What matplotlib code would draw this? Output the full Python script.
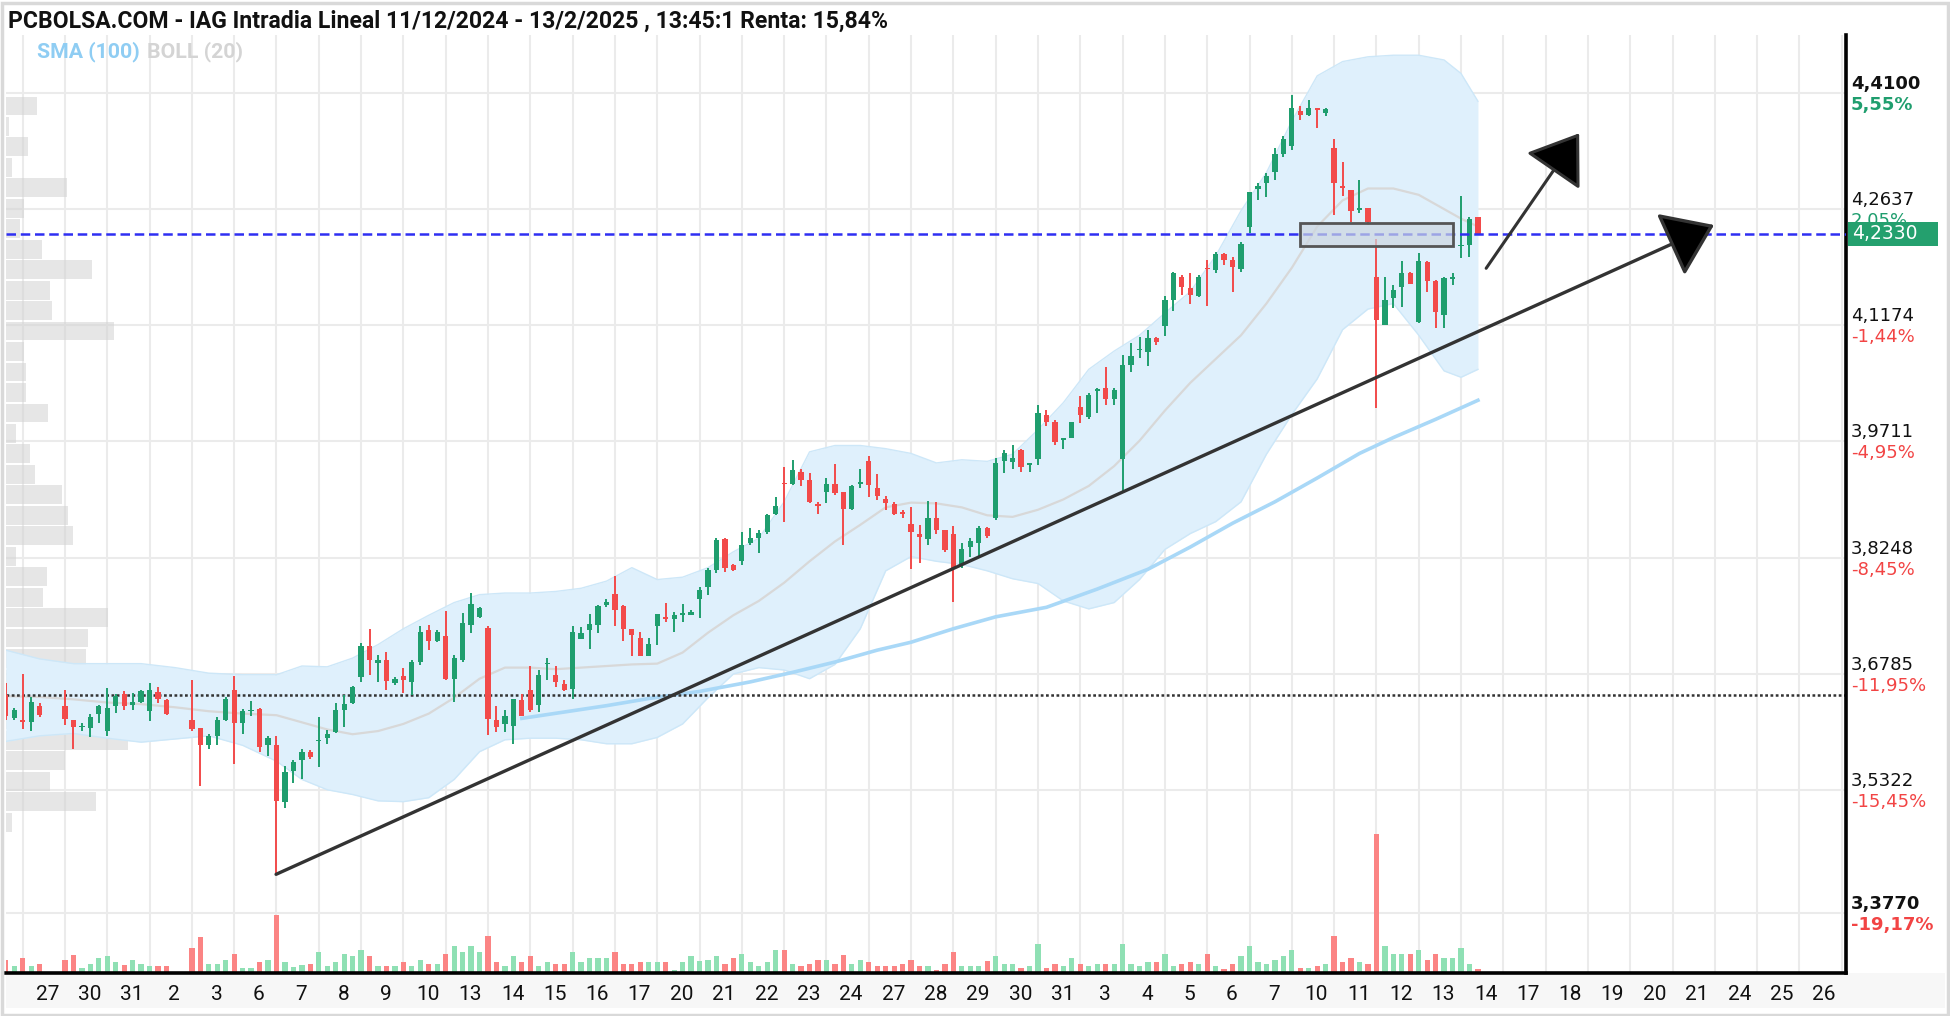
import numpy as np
import matplotlib
matplotlib.use("Agg")
import matplotlib.pyplot as plt
from matplotlib.patches import Rectangle
from matplotlib.transforms import blended_transform_factory, offset_copy

# velas intradia (5 por sesion). primera barra = 24 dic (posicion -2). None = sin dato
apertura = [3.6515, 3.622,
            3.620, 3.618, 3.637, None, None,
            3.638, 3.620, 3.611, 3.610, 3.628,
            3.606, 3.637, 3.653, 3.639, 3.643,
            3.631, 3.655, 3.645, None, None,
            3.620, 3.610, 3.588, 3.600, 3.620,
            3.658, 3.616, 3.631, 3.634, 3.588,
            3.588, 3.516, 3.556, 3.570, 3.579,
            3.593, 3.597, 3.605, 3.633, 3.641,
            3.674, 3.713, 3.692, 3.695, 3.666,
            3.675, 3.668, 3.693, 3.733, 3.719,
            3.726, 3.672, 3.696, 3.740, 3.750,
            3.736, 3.620, 3.615, 3.612, 3.645,
            3.658, 3.639, 3.690, 3.677, 3.665,
            3.659, 3.722, 3.733, 3.740, 3.765,
            3.779, 3.764, 3.735, 3.723, 3.701,
            3.738, 3.750, 3.747, 3.752, 3.752,
            3.773, 3.787, 3.809, 3.848, 3.815,
            3.820, 3.843, 3.850, 3.857, 3.880,
            3.919, 3.917, 3.933, 3.923, 3.892,
            3.908, 3.917, 3.908, 3.886, 3.918,
            3.947, 3.912, 3.899, 3.892, 3.882,
            3.867, 3.854, 3.848, 3.874, 3.860,
            3.854, 3.817, 3.838, 3.843, 3.862,
            3.874, 3.946, 3.945, 3.960, 3.941,
            3.949, 4.004, 3.996, 3.973, 3.976,
            4.015, 4.002, 4.035, 4.038, 4.024,
            3.949, 4.068, 4.086, 4.084, 4.101,
            4.117, 4.149, 4.179, 4.164, 4.154,
            4.189, 4.187, 4.207, 4.200, 4.189,
            4.241, 4.289, 4.297, 4.311, 4.334,
            4.344, 4.388, 4.383, 4.391, 4.385,
            4.341, 4.293, 4.288, 4.263, 4.265,
            4.179, 4.118, 4.152, 4.166, 4.184,
            4.122, 4.197, 4.174, 4.131, 4.176,
            4.217, 4.219, 4.254]
maximo = [3.666, 3.635,
          3.6785, 3.649, 3.642, None, None,
          3.658, 3.620, 3.616, 3.627, 3.639,
          3.660, 3.653, 3.656, 3.654, 3.658,
          3.667, 3.662, 3.646, None, None,
          3.671, 3.610, 3.602, 3.624, 3.649,
          3.676, 3.634, 3.644, 3.635, 3.600,
          3.600, 3.562, 3.570, 3.584, 3.582,
          3.624, 3.607, 3.641, 3.651, 3.663,
          3.717, 3.735, 3.702, 3.706, 3.674,
          3.685, 3.696, 3.738, 3.740, 3.733,
          3.757, 3.702, 3.755, 3.780, 3.763,
          3.738, 3.637, 3.632, 3.647, 3.653,
          3.688, 3.683, 3.698, 3.688, 3.670,
          3.738, 3.737, 3.754, 3.765, 3.773,
          3.801, 3.765, 3.735, 3.731, 3.723,
          3.753, 3.768, 3.756, 3.766, 3.759,
          3.788, 3.812, 3.849, 3.849, 3.816,
          3.857, 3.862, 3.859, 3.880, 3.901,
          3.939, 3.948, 3.936, 3.931, 3.895,
          3.925, 3.943, 3.908, 3.916, 3.937,
          3.953, 3.930, 3.902, 3.895, 3.885,
          3.889, 3.866, 3.896, 3.895, 3.860,
          3.864, 3.843, 3.849, 3.864, 3.863,
          3.950, 3.960, 3.967, 3.962, 3.944,
          4.017, 4.011, 3.998, 3.976, 3.996,
          4.028, 4.032, 4.038, 4.065, 4.038,
          4.080, 4.095, 4.103, 4.111, 4.103,
          4.154, 4.185, 4.181, 4.183, 4.181,
          4.200, 4.210, 4.209, 4.204, 4.222,
          4.286, 4.297, 4.309, 4.341, 4.356,
          4.408, 4.394, 4.401, 4.391, 4.391,
          4.353, 4.323, 4.288, 4.301, 4.266,
          4.226, 4.179, 4.168, 4.198, 4.185,
          4.209, 4.198, 4.175, 4.179, 4.184,
          4.280, 4.254, 4.254]
minimo = [3.620, 3.620,
          3.609, 3.606, 3.624, None, None,
          3.614, 3.584, 3.606, 3.599, 3.616,
          3.600, 3.629, 3.632, 3.632, 3.641,
          3.619, 3.641, 3.626, None, None,
          3.606, 3.537, 3.583, 3.589, 3.619,
          3.564, 3.602, 3.625, 3.579, 3.574,
          3.425, 3.509, 3.541, 3.546, 3.571,
          3.561, 3.590, 3.603, 3.611, 3.640,
          3.668, 3.677, 3.668, 3.658, 3.664,
          3.654, 3.651, 3.689, 3.708, 3.718,
          3.670, 3.643, 3.693, 3.729, 3.749,
          3.601, 3.605, 3.605, 3.590, 3.625,
          3.630, 3.630, 3.670, 3.661, 3.657,
          3.647, 3.722, 3.710, 3.729, 3.763,
          3.738, 3.719, 3.700, 3.700, 3.700,
          3.714, 3.744, 3.731, 3.744, 3.752,
          3.749, 3.777, 3.805, 3.807, 3.808,
          3.815, 3.841, 3.830, 3.855, 3.878,
          3.869, 3.916, 3.915, 3.894, 3.880,
          3.894, 3.904, 3.841, 3.885, 3.912,
          3.901, 3.897, 3.885, 3.878, 3.874,
          3.810, 3.818, 3.841, 3.854, 3.832,
          3.769, 3.811, 3.826, 3.826, 3.850,
          3.872, 3.931, 3.936, 3.933, 3.933,
          3.941, 3.990, 3.967, 3.961, 3.975,
          3.994, 4.000, 4.007, 4.017, 4.017,
          3.908, 4.059, 4.076, 4.066, 4.093,
          4.104, 4.135, 4.156, 4.145, 4.153,
          4.142, 4.183, 4.194, 4.160, 4.185,
          4.234, 4.275, 4.279, 4.301, 4.330,
          4.339, 4.376, 4.381, 4.366, 4.381,
          4.257, 4.280, 4.248, 4.259, 4.244,
          4.013, 4.118, 4.139, 4.141, 4.170,
          4.121, 4.160, 4.114, 4.114, 4.168,
          4.202, 4.204, 4.231]
cierre = [3.6245, 3.633,
          3.618, 3.643, 3.626, None, None,
          3.621, 3.611, 3.613, 3.624, 3.638,
          3.635, 3.650, 3.638, 3.643, 3.657,
          3.658, 3.646, 3.628, None, None,
          3.608, 3.588, 3.600, 3.620, 3.647,
          3.616, 3.631, 3.633, 3.586, 3.597,
          3.518, 3.555, 3.567, 3.580, 3.573,
          3.595, 3.602, 3.632, 3.640, 3.662,
          3.713, 3.696, 3.695, 3.669, 3.672,
          3.671, 3.693, 3.731, 3.719, 3.731,
          3.672, 3.698, 3.742, 3.766, 3.761,
          3.621, 3.611, 3.625, 3.647, 3.625,
          3.632, 3.677, 3.692, 3.668, 3.658,
          3.731, 3.729, 3.741, 3.764, 3.769,
          3.759, 3.735, 3.727, 3.701, 3.716,
          3.753, 3.747, 3.752, 3.755, 3.756,
          3.784, 3.809, 3.847, 3.812, 3.809,
          3.841, 3.849, 3.856, 3.878, 3.890,
          3.917, 3.935, 3.923, 3.895, 3.890,
          3.917, 3.906, 3.886, 3.915, 3.920,
          3.916, 3.902, 3.894, 3.880, 3.880,
          3.857, 3.851, 3.874, 3.860, 3.834,
          3.812, 3.836, 3.845, 3.862, 3.852,
          3.944, 3.957, 3.950, 3.939, 3.944,
          4.007, 3.996, 3.971, 3.975, 3.995,
          4.004, 4.030, 4.037, 4.024, 4.036,
          4.068, 4.079, 4.087, 4.101, 4.097,
          4.149, 4.183, 4.166, 4.156, 4.179,
          4.188, 4.207, 4.200, 4.191, 4.220,
          4.286, 4.293, 4.306, 4.334, 4.353,
          4.391, 4.383, 4.391, 4.389, 4.390,
          4.297, 4.291, 4.261, 4.265, 4.248,
          4.124, 4.149, 4.162, 4.184, 4.170,
          4.198, 4.173, 4.134, 4.177, 4.177,
          4.219, 4.252, 4.233]
# volumen en millones de acciones
volumen = [3.3, 1.7,
           3.8, 1.7, 2.3, None, None,
           3.3, 4.4, 1.3, 2.3, 3.8,
           4.3, 2.7, 2.1, 3.2, 2.3,
           1.8, 1.8, 1.8, None, None,
           6.3, 9.0, 2.3, 2.3, 3.3,
           4.8, 1.3, 1.3, 2.7, 3.3,
           14.5, 2.8, 1.4, 2.1, 2.3,
           5.2, 1.7, 2.8, 4.8, 4.3,
           5.7, 4.3, 1.7, 1.7, 1.7,
           2.8, 1.7, 3.3, 2.3, 2.3,
           4.8, 6.7, 5.2, 6.8, 5.2,
           9.3, 2.8, 1.7, 4.3, 2.8,
           4.3, 1.8, 2.8, 2.3, 2.3,
           5.3, 2.8, 3.8, 3.8, 3.8,
           5.3, 2.3, 2.3, 2.8, 2.8,
           2.8, 2.8, 0.8, 2.7, 4.3,
           2.9, 3.3, 4.3, 2.3, 3.8,
           4.8, 2.8, 1.7, 2.8, 5.8,
           5.8, 2.3, 1.8, 2.3, 3.2,
           3.2, 2.3, 4.4, 2.3, 3.2,
           2.8, 1.8, 1.8, 1.8, 2.3,
           3.3, 1.8, 1.8, 0.8, 2.3,
           5.3, 1.8, 1.8, 1.8, 2.9,
           4.3, 2.3, 2.3, 1.3, 1.7,
           7.3, 1.3, 2.3, 1.8, 3.8,
           2.3, 1.7, 2.3, 2.3, 2.3,
           7.3, 2.3, 1.8, 2.8, 2.8,
           4.8, 1.7, 2.3, 2.8, 2.3,
           4.8, 1.8, 1.0, 2.3, 4.3,
           6.8, 2.8, 2.3, 3.3, 4.2,
           5.8, 1.3, 1.3, 1.8, 2.3,
           9.3, 2.8, 3.8, 2.8, 2.3,
           34.8, 6.7, 4.8, 4.8, 4.8,
           5.8, 3.3, 4.8, 3.8, 3.8,
           6.3, 2.3, 1.0]

# bandas de bollinger (20) y media simple (100)
boll_x = [-2, 2, 6, 10, 14, 18, 22, 26, 30, 33, 36, 39, 42, 45, 48, 51, 54, 57, 60,
          63, 66, 69, 72, 75, 78, 81, 84, 87, 90, 93, 96, 99, 102, 105, 108, 111, 114,
          117, 120, 123, 126, 129, 132, 135, 138, 141, 144, 147, 150, 153, 156, 159,
          162, 165, 168, 170, 172]
boll_sup = [3.708, 3.697, 3.691, 3.691, 3.691, 3.686, 3.679, 3.677, 3.677, 3.688, 3.687,
            3.698, 3.715, 3.735, 3.752, 3.768, 3.778, 3.780, 3.780, 3.782, 3.786, 3.795,
            3.812, 3.797, 3.800, 3.812, 3.832, 3.849, 3.895, 3.958, 3.966, 3.966, 3.962,
            3.956, 3.944, 3.948, 3.946, 3.955, 3.986, 4.020, 4.062, 4.085, 4.105, 4.133,
            4.160, 4.205, 4.262, 4.310, 4.375, 4.432, 4.450, 4.456, 4.458, 4.458, 4.452,
            4.435, 4.400]
boll_med = [3.650, 3.649, 3.646, 3.642, 3.640, 3.636, 3.631, 3.628, 3.626, 3.617, 3.608,
            3.602, 3.606, 3.615, 3.628, 3.648, 3.672, 3.686, 3.686, 3.684, 3.686, 3.688,
            3.690, 3.691, 3.705, 3.730, 3.752, 3.770, 3.793, 3.820, 3.845, 3.866, 3.888,
            3.894, 3.893, 3.888, 3.878, 3.876, 3.885, 3.898, 3.915, 3.940, 3.972, 4.010,
            4.045, 4.075, 4.105, 4.145, 4.190, 4.242, 4.275, 4.290, 4.290, 4.282, 4.264,
            4.252, 4.242]
boll_inf = [3.593, 3.600, 3.603, 3.597, 3.592, 3.596, 3.600, 3.588, 3.568, 3.545, 3.532,
            3.526, 3.518, 3.517, 3.522, 3.545, 3.580, 3.595, 3.597, 3.597, 3.595, 3.590,
            3.590, 3.598, 3.615, 3.648, 3.678, 3.686, 3.683, 3.672, 3.690, 3.735, 3.808,
            3.826, 3.820, 3.816, 3.808, 3.798, 3.792, 3.770, 3.760, 3.768, 3.797, 3.835,
            3.855, 3.870, 3.895, 3.955, 4.005, 4.050, 4.112, 4.138, 4.145, 4.105, 4.060,
            4.052, 4.062]
sma_x = [59, 64, 69, 74, 80, 86, 91, 96, 101, 105, 110, 115, 121, 127, 133, 138, 143,
         148, 153, 158, 162, 167, 172]
sma_y = [3.622, 3.630, 3.638, 3.647, 3.656, 3.668, 3.680, 3.693, 3.708, 3.718, 3.735,
         3.750, 3.762, 3.785, 3.810, 3.838, 3.868, 3.895, 3.925, 3.956, 3.976, 3.999, 4.023]

# perfil de volumen por precio (de 4,41 hacia abajo)
perfil = [31, 3, 22, 6, 61, 18, 14, 36, 86, 44, 46, 108, 18, 20, 20, 42, 10, 24, 29,
          56, 62, 67, 10, 41, 37, 102, 82, 80, 100, 179, 179, 122, 59, 44, 90, 6]

dias = ['27', '30', '31', '2', '3', '6', '7', '8', '9', '10', '13', '14', '15', '16', '17',
        '20', '21', '22', '23', '24', '27', '28', '29', '30', '31', '3', '4', '5', '6', '7',
        '10', '11', '12', '13', '14', '17', '18', '19', '20', '21', '24', '25', '26']

niveles = [4.4100, 4.2637, 4.1174, 3.9711, 3.8248, 3.6785, 3.5322, 3.3770]
porcentajes = [5.55, 2.05, -1.44, -4.95, -8.45, -11.95, -15.45, -19.17]
ultimo = 4.2330
soporte = 3.6515

titulo = "PCBOLSA.COM - IAG Intradia Lineal 11/12/2024 - 13/2/2025 , 13:45:1 Renta: 15,84%"

verde = '#1f9e6e'
rojo = '#f24a4a'
verde_vol = '#8fe0b4'
rojo_vol = '#fb8484'
narrow = ['Liberation Sans Narrow', 'Roboto', 'DejaVu Sans']

fig = plt.figure(figsize=(19.5, 10.16), dpi=100)
ax = fig.add_axes([6 / 1950, 43 / 1016, 1840 / 1950, 938 / 1016])
ymin, ymax = 3.3010, 4.4835
ax.set_xlim(-1.97, 215.5)
ax.set_ylim(ymin, ymax)
ax.set_xticks([])
ax.set_yticks([])
for lado in ['left', 'top']:
    ax.spines[lado].set_visible(False)
for lado in ['right', 'bottom']:
    ax.spines[lado].set_color('black')
    ax.spines[lado].set_linewidth(2.6)

# rejilla
for p in niveles:
    ax.axhline(p, color='#ebebeb', lw=1.5, zorder=0)
for k in range(len(dias) + 1):
    ax.axvline(5 * k, color='#ebebeb', lw=1.5, zorder=0)

# perfil de volumen (ancho en pixeles del area de grafico)
tr_perfil = blended_transform_factory(ax.transAxes, ax.transData)
paso = 0.0258
for i, w in enumerate(perfil):
    ax.add_patch(Rectangle((0, 4.408 - (i + 1) * paso), w / 1840, paso * 0.92,
                           transform=tr_perfil, facecolor='#d2d2d2', alpha=0.55,
                           lw=0, zorder=0.5))

# bollinger y media
ax.fill_between(boll_x, boll_inf, boll_sup, color='#dff0fc', lw=0, zorder=1)
ax.plot(boll_x, boll_sup, color='#cde7f8', lw=1, zorder=1.1)
ax.plot(boll_x, boll_inf, color='#cde7f8', lw=1, zorder=1.1)
ax.plot(boll_x, boll_med, color='#d8d8d8', lw=1.6, zorder=1.2)
ax.plot(sma_x, sma_y, color='#a9d8f7', lw=2.6, zorder=1.3)

# velas y volumen
x = np.arange(len(apertura)) - 2
o = np.array(apertura, dtype=float)
h = np.array(maximo, dtype=float)
l = np.array(minimo, dtype=float)
c = np.array(cierre, dtype=float)
v = np.array(volumen, dtype=float)
ok = ~np.isnan(o)
x, o, h, l, c, v = x[ok], o[ok], h[ok], l[ok], c[ok], v[ok]
sube = c >= o
col = np.where(sube, verde, rojo)
col_vol = np.where(sube, verde_vol, rojo_vol)

escala_vol = 4 / 793.2
ax.bar(x, v * escala_vol, bottom=ymin, width=0.62, color=col_vol, lw=0, zorder=2)
ax.vlines(x, l, h, colors=col, lw=1.4, zorder=3)
cuerpo = np.maximum(np.abs(c - o), 0.0018)
ax.bar(x, cuerpo, bottom=np.minimum(o, c), width=0.62, color=col, lw=0, zorder=4)

# lineas horizontales
ax.axhline(soporte, color='#333333', lw=1.8, ls=(0, (1.1, 1.0)), zorder=2.5)
ax.axhline(ultimo, color='#2f2ff2', lw=1.8, ls=(0, (3.8, 1.9)), zorder=4.5)

# rectangulo y flechas dibujadas
ax.add_patch(Rectangle((151.0, 4.2171), 18.0, 0.0298, facecolor=(0.80, 0.84, 0.88, 0.7),
                       edgecolor='#555555', lw=2, zorder=5))
ax.annotate('', xy=(199.9, 4.244), xytext=(29.95, 3.4254), zorder=6,
            arrowprops=dict(arrowstyle='-|>,head_length=1.55,head_width=1.1',
                            mutation_scale=20, lw=2.4, ec='#333333', fc='black',
                            shrinkA=0, shrinkB=0))
ax.annotate('', xy=(183.96, 4.3596), xytext=(172.97, 4.1894), zorder=6,
            arrowprops=dict(arrowstyle='-|>,head_length=1.5,head_width=1.05',
                            mutation_scale=20, lw=2.2, ec='#333333', fc='black',
                            shrinkA=0, shrinkB=0))

# etiquetas de fecha
tr_x = blended_transform_factory(ax.transData, ax.transAxes)
for k, d in enumerate(dias):
    ax.text(5 * k + 2.9, -22 / 938, d, transform=tr_x, ha='center', va='center',
            fontsize=15, family=narrow, color='#111111', clip_on=False)

# escala de precios a la derecha
tr_y = blended_transform_factory(ax.transAxes, ax.transData)
t_precio = offset_copy(tr_y, fig=fig, x=5, y=9, units='dots')
t_pct = offset_copy(tr_y, fig=fig, x=5, y=-12, units='dots')
for i, (p, pc) in enumerate(zip(niveles, porcentajes)):
    extremo = i == 0 or i == len(niveles) - 1
    peso = 'bold' if extremo else 'normal'
    ax.text(1.0, p, f"{p:.4f}".replace('.', ','), transform=t_precio, ha='left',
            va='center', fontsize=13, fontweight=peso, color='#111111', clip_on=False)
    ax.text(1.0, p, f"{pc:.2f}%".replace('.', ','), transform=t_pct, ha='left',
            va='center', fontsize=13, fontweight=peso,
            color=verde if pc > 0 else '#f24444', clip_on=False)
ax.add_patch(Rectangle((1.001, ultimo - 0.0152), 90 / 1840, 0.0304, transform=tr_y,
                       facecolor='#24a06e', lw=0, clip_on=False, zorder=7))
ax.text(1.0, ultimo, f"{ultimo:.4f}".replace('.', ','),
        transform=offset_copy(tr_y, fig=fig, x=6, y=0, units='dots'), ha='left',
        va='center', fontsize=13.5, color='white', clip_on=False, zorder=8)

# marco, banda inferior y titulos
fig.patches.append(Rectangle((6 / 1950, 8 / 1016), 1939 / 1950, 35 / 1016,
                             transform=fig.transFigure, facecolor='#f7f7f7', lw=0,
                             zorder=-1))
fig.patches.append(Rectangle((1.5 / 1950, 1.5 / 1016), 1946 / 1950, 1012 / 1016,
                             transform=fig.transFigure, fill=False, edgecolor='#d9d9d9',
                             lw=2.5))
fig.text(8 / 1950, 1 - 21 / 1016, titulo, fontsize=16.6, fontweight='bold', family=narrow,
         va='center', ha='left', color='#111111')
fig.text(37 / 1950, 1 - 52 / 1016, 'SMA (100)', fontsize=15.3, fontweight='bold',
         family=narrow, va='center', ha='left', color='#8fcdf3')
fig.text(147 / 1950, 1 - 52 / 1016, 'BOLL (20)', fontsize=15.3, fontweight='bold',
         family=narrow, va='center', ha='left', color='#d4d4d4')

fig.savefig('out.png', dpi=100, facecolor='white')
